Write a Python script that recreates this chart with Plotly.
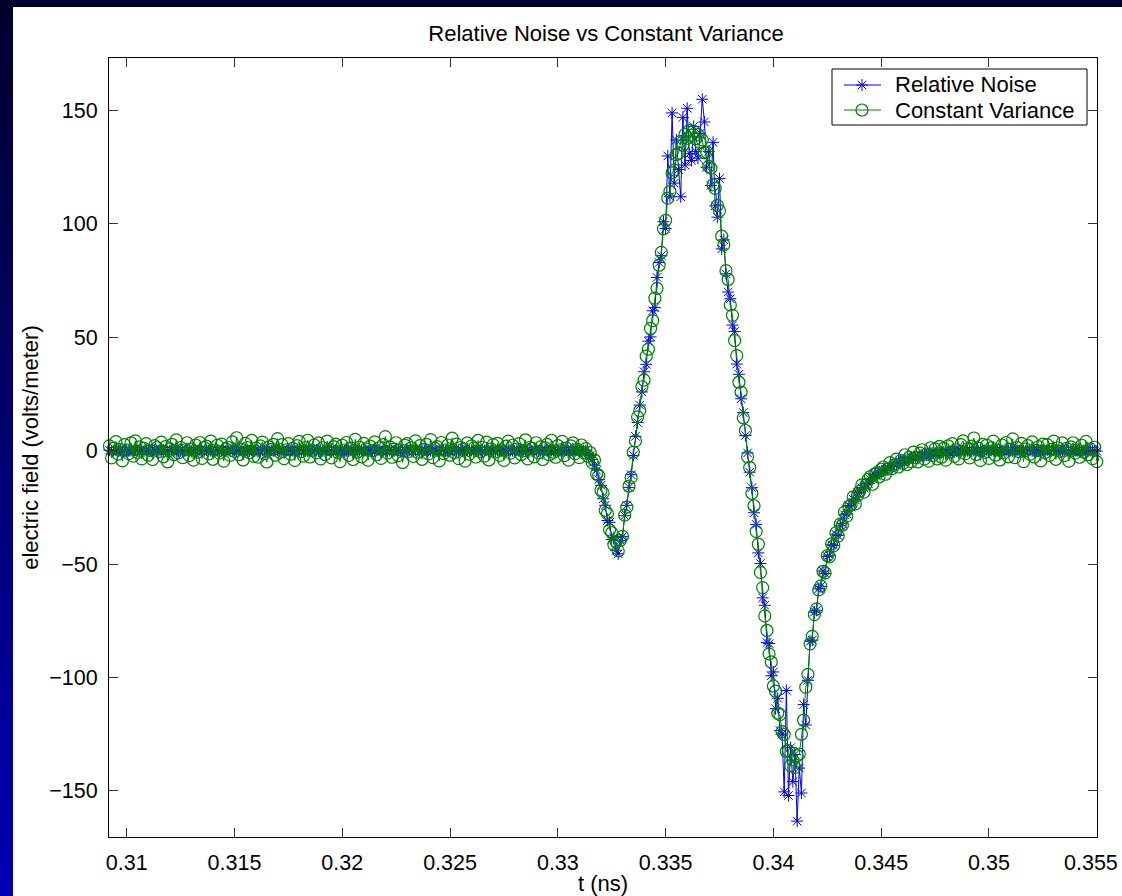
import numpy as np
import plotly.graph_objects as go

# Sampling grid (ns)
T0 = 0.3092
DT = 0.0001

# Constant-variance estimate: flat lead-in, pulse, flat tail
green_lead = [
    2.1, -3.2, 1.1, 4.0, -1.5, 0.6, -4.5, 2.7, 0.3, -1.3, 3.4, -2.4, 4.3, -0.7, 1.7, -3.6, 1.0, 3.1, -2.0, 0.1,
    -3.9, 2.2, 1.3, -0.4, 3.8, -2.7, 1.8, -4.9, 0.8, 2.8, -1.7, 4.8, -1.0, 1.4, -3.1, 0.4, 3.5, -2.2, 0.7, -4.2,
    2.5, -0.6, 3.6, -3.4, 1.3, 2.0, -1.4, 4.2, -3.8, 0.3, 2.4, -1.1, 2.9, -4.6, 0.8, 1.5, -2.1, 3.9, -0.3, 5.7,
    -1.8, 0.7, -4.1, 3.2, 1.4, -0.8, 4.5, -2.5, 1.1, -2.9, 2.1, 3.8, -1.3, -5.0, 1.7, 0.6, 2.8, -2.0, 5.3, -0.7,
    2.7, -3.5, 0.4, 3.1, -1.5, 1.0, -4.3, 2.2, 4.1, -0.4, -2.4, 1.4, 4.6, -2.8, 0.1, 2.5, -1.0, 3.4, -3.6, 1.3,
    -1.7, 4.2, 0.6, -3.2, 1.8, 2.9, -0.8, -4.8, 2.4, 0.3, 3.6, -2.1, 1.1, -3.9, 5.0, -0.6, 1.5, -2.7, 3.2, 0.8,
    -4.2, 2.0, 0.0, 3.9, -1.8, 1.3, -3.4, 2.7, 6.2, -1.1, 1.7, -2.9, 0.7, 3.5, -2.2, 0.4, -5.2, 2.4, 3.1, -0.3,
    1.3, -2.5, 4.3, -0.7, 2.2, -3.8, 0.6, 2.8, -1.4, 4.9, -3.1, 1.0, 1.8, -4.5, 3.6, -1.3, 0.3, 2.5, -2.0, 5.5,
    -0.8, 2.9, -3.5, 1.4, 0.7, -4.6, 3.4, -1.5, 2.1, 1.1, -2.8, 4.5, -0.4, 1.5, -2.4, 3.8, -4.1, 0.8, 2.7, -0.6,
    3.2, -2.1, 0.3, -4.3, 2.0, 4.2, -1.1, 2.4, -3.2, 0.7, 3.1, -1.7, -0.1, 4.8, -3.6, 1.4, 1.0, -2.7, 3.5, -1.0,
    1.7, -3.9, 1.3, 2.8, -1.8, 4.6, -0.7, -2.9, 2.2, 0.4, 4.1, -2.2, 1.1, -4.2, 2.1, 3.4, -1.3, 0.6, -3.1, 2.5,
    -0.8,
]
green_pulse = [
    0.9, -2.4, -0.8, -5.3, -4.1, -10.2, -11.0, -17.5, -18.6, -26.3,
    -27.8, -34.9, -36.2, -41.4, -40.1, -44.2, -39.5, -37.8, -28.4, -24.9,
    -15.6, -11.8, -0.7, 4.3, 14.9, 17.6, 28.2, 31.1, 41.7, 44.8,
    53.9, 57.4, 67.3, 71.6, 81.8, 87.5, 97.9, 101.6, 111.4, 114.3,
    122.5, 123.8, 130.6, 131.2, 136.4, 134.7, 139.5, 137.8, 141.3, 139.2,
    140.9, 137.6, 139.4, 135.9, 137.1, 131.5, 131.8, 125.4, 124.6, 117.3,
    115.7, 108.2, 105.9, 94.6, 90.8, 79.4, 75.5, 64.3, 59.7, 48.6,
    41.9, 30.2, 25.8, 14.5, 8.9, -2.7, -7.4, -18.8, -24.3, -35.6,
    -41.2, -53.7, -60.4, -72.9, -79.3, -89.6, -93.2, -103.8, -106.1, -115.7,
    -116.4, -123.9, -125.2, -132.6, -132.3, -138.9, -136.4, -139.7, -134.5, -133.8,
    -125.1, -118.9, -104.3, -98.7, -85.2, -81.9, -72.3, -69.8, -61.4, -59.6,
    -53.2, -53.9, -46.3, -46.8, -41.1, -41.9, -36.2, -37.7, -32.4, -32.8,
    -27.1, -28.9, -24.6, -23.9, -20.4, -23.5, -19.8, -17.9, -15.1, -18.3,
    -14.9, -12.6, -11.4, -14.8, -10.3, -9.7, -11.6, -8.2, -7.2, -10.4,
    -8.1, -5.3, -7.9, -6.4, -3.7, -7.2, -4.4, -5.6, -1.8, -6.1,
    -2.9, -4.8, -0.6, -3.2, -4.9, -1.1, 0.4, -3.7, -1.5, -4.6,
    1.3, -2.1, 0.8, -3.6, 1.9,
]
green_tail = [
    -2.9, 1.0, -4.2, 2.1, -0.6, 3.1, -2.5, 0.4, -3.6, 2.7, 4.3, -1.3, 0.8, -3.2, 2.0, 5.6, -1.7, 1.1, -4.3, 2.8,
    -0.7, 2.4, -3.4, 1.3, 4.2, -2.0, 0.3, -4.1, 2.5, -1.0, 3.6, -2.7, 0.7, 5.2, -3.1, 1.4, -0.4, 3.2, -4.8, 0.8,
    2.2, -1.5, 3.9, -2.8, 0.1, 1.8, -4.5, 2.9, -0.8, 2.7, -2.1, 0.6, 4.2, -3.8, 1.3, -0.3, 3.4, -2.2, 1.0, -4.6,
    1.7, 3.5, -1.1, 0.4, -2.9, 2.4, -0.6, 4.1, -1.8, 0.8, -3.5, 1.5, -4.8,
]

# Relative-noise estimate: flat lead-in, pulse, flat tail
blue_lead = [
    0.2, -0.1, 0.0, 0.3, -0.2, 0.1, -0.3, 0.0, 0.2, -0.1, 0.1, -0.2, 0.3, 0.0, -0.1, 0.2, -0.3, 0.1, 0.0, -0.2,
    0.1, 0.3, -0.1, 0.0, -0.2, 0.2, 0.1, -0.3, 0.0, 0.1, -0.1, 0.2, -0.2, 0.0, 0.3, -0.1, 0.1, 0.0, -0.3, 0.2,
    -0.1, 0.0, 0.2, -0.2, 0.1, 0.3, -0.1, 0.0, -0.2, 0.1, 0.2, -0.3, 0.0, 0.1, -0.1, 0.3, -0.2, 0.0, 0.2, -0.1,
    0.0, 0.1, -0.3, 0.2, 0.0, -0.1, 0.3, -0.2, 0.1, 0.0, -0.1, 0.2, 0.0, -0.3, 0.1, 0.2, -0.1, 0.0, 0.3, -0.2,
    0.1, -0.2, 0.0, 0.2, -0.1, 0.1, -0.3, 0.0, 0.3, -0.1, 0.0, 0.2, -0.2, 0.1, -0.1, 0.0, 0.3, -0.2, 0.1, 0.0,
    -0.3, 0.2, 0.1, -0.1, 0.0, 0.2, -0.2, 0.1, 0.3, -0.1, 0.0, -0.2, 0.1, 0.2, -0.3, 0.0, 0.1, -0.1, 0.2, 0.0,
    -0.2, 0.3, 0.0, -0.1, 0.1, 0.2, -0.3, 0.0, 0.1, -0.2, 0.2, 0.0, -0.1, 0.3, 0.1, -0.2, 0.0, 0.1, -0.1, 0.2,
    0.0, -0.3, 0.2, 0.1, -0.1, 0.0, 0.3, -0.2, 0.1, 0.0, -0.1, 0.2, -0.2, 0.0, 0.1, 0.3, -0.1, 0.0, -0.3, 0.2,
    0.1, -0.1, 0.0, 0.2, -0.2, 0.3, 0.0, -0.1, 0.1, -0.3, 0.2, 0.0, 0.1, -0.2, 0.0, 0.3, -0.1, 0.1, 0.0, -0.2,
    0.2, 0.0, -0.1, 0.1, -0.3, 0.2, 0.1, 0.0, -0.2, 0.3, -0.1, 0.0, 0.2, -0.2, 0.1, 0.0, -0.1, 0.3, 0.0, -0.2,
    0.1, -0.1, 0.2, 0.0, -0.3, 0.1, 0.0, 0.2, -0.1, 0.1, -0.2, 0.0, 0.3, -0.1, 0.1, 0.0, -0.2, 0.2, 0.0, -0.1,
    0.1,
]
blue_pulse = [
    0.1, -1.1, -2.1, -3.8, -6.4, -8.6, -12.7, -15.3, -21.2, -24.1,
    -30.8, -31.6, -39.2, -38.3, -43.9, -45.5, -39.6, -37.9, -28.7, -24.1,
    -16.2, -10.6, -2.1, 6.3, 12.4, 20.1, 25.9, 34.8, 38.1, 48.3,
    50.2, 61.7, 63.1, 76.4, 83.0, 86.0, 101.0, 98.0, 130.0, 112.0,
    149.0, 118.0, 137.0, 124.0, 112.0, 147.0, 126.0, 151.0, 131.0, 128.0,
    143.0, 132.0, 129.0, 140.0, 155.0, 145.0, 125.0, 132.0, 117.0, 136.0,
    108.0, 103.0, 120.0, 89.0, 93.0, 78.0, 70.0, 67.0, 55.4, 52.6,
    38.2, 33.7, 22.9, 16.8, 6.7, -1.0, -9.5, -16.3, -27.4, -32.5,
    -45.1, -49.8, -64.9, -68.2, -84.7, -85.1, -99.3, -97.6, -113.8, -109.2,
    -123.5, -125.0, -150.5, -105.8, -152.1, -131.0, -146.0, -134.0, -163.4, -140.0,
    -151.0, -112.0, -121.0, -101.3, -84.1, -83.6, -71.2, -70.4, -60.9, -59.8,
    -53.1, -54.2, -46.7, -46.1, -41.5, -41.8, -36.9, -37.4, -33.1, -32.2,
    -28.3, -27.9, -24.2, -24.8, -21.4, -21.7, -18.5, -18.6, -16.4, -16.5,
    -14.6, -14.4, -12.7, -12.3, -10.7, -11.3, -9.8, -9.2, -8.8, -8.2,
    -7.8, -7.1, -6.9, -6.1, -5.9, -5.1, -4.9, -5.0, -4.1, -3.9,
    -4.0, -3.1, -2.9, -3.0, -2.9, -2.1, -2.0, -1.9, -2.0, -1.9,
    -1.1, -1.0, -0.9, -1.0, -0.9, -0.8, -0.7, -0.7, -0.6, -0.5,
    -0.5, -0.4, -0.3, -0.3, -0.2,
]
blue_tail = [
    0.1, -0.2, 0.0, 0.2, -0.1, 0.1, 0.0, -0.2, 0.2, -0.1, 0.0, 0.1, -0.1, 0.2, 0.0, -0.2, 0.1, 0.0, -0.1, 0.2,
    0.0, -0.1, 0.1, -0.2, 0.0, 0.2, -0.1, 0.1, 0.0, -0.2, 0.1, 0.2, -0.1, 0.0, 0.1, -0.2, 0.0, 0.1, -0.1, 0.2,
    -0.1, 0.0, 0.2, -0.2, 0.1, 0.0, -0.1, 0.1, 0.2, -0.1, 0.0, -0.2, 0.1, 0.0, 0.2, -0.1, 0.1, -0.2, 0.0, 0.1,
    0.0, -0.1, -0.2,
]

x_tickvals = [0.31, 0.315, 0.32, 0.325, 0.33, 0.335, 0.34, 0.345, 0.35, 0.355]
x_ticktext = ["0.31", "0.315", "0.32", "0.325", "0.33", "0.335", "0.34", "0.345", "0.35", "0.355"]
y_tickvals = [-150, -100, -50, 0, 50, 100, 150]
y_ticktext = ["\u2212150", "\u2212100", "\u221250", "0", "50", "100", "150"]

series_names = ["Relative Noise", "Constant Variance"]

green = green_lead + green_pulse + green_tail
blue = blue_lead + blue_pulse + blue_tail
t_green = np.round(T0 + DT * np.arange(len(green)), 6)
t_blue = np.round(T0 + DT * np.arange(len(blue)), 6)

W, H = 1122, 896
ML, MR, MT, MB = 109, 25, 58, 59
PW, PH = W - ML - MR, H - MT - MB
FONT = "Liberation Sans, Arial, Helvetica, sans-serif"
TICK_SIZE = 21.5
BLUE, GREEN = "#0000ff", "#008000"
BLUE_MARK = dict(symbol="asterisk-open", size=10, color=BLUE, line=dict(color=BLUE, width=1))
GREEN_MARK = dict(symbol="circle-open", size=12, color=GREEN, line=dict(color=GREEN, width=1.2))


def px_x(p):
    return (p - ML) / PW


def px_y(p):
    return (H - MB - p) / PH


fig = go.Figure()
fig.add_trace(go.Scatter(
    x=t_blue, y=blue, name=series_names[0], mode="lines+markers",
    line=dict(color=BLUE, width=1), marker=BLUE_MARK,
    cliponaxis=False, showlegend=False,
))
fig.add_trace(go.Scatter(
    x=t_green, y=green, name=series_names[1], mode="lines+markers",
    line=dict(color=GREEN, width=1), marker=GREEN_MARK,
    cliponaxis=False, showlegend=False,
))

# Boxed key, drawn on an overlay axis pair spanning the plot area (0..1 both ways)
BOX = (832, 1087, 69, 125)
ROWS = [(85, BLUE, BLUE_MARK), (110, GREEN, GREEN_MARK)]
bx = [px_x(BOX[0]), px_x(BOX[1]), px_x(BOX[1]), px_x(BOX[0]), px_x(BOX[0])]
by = [px_y(BOX[2]), px_y(BOX[2]), px_y(BOX[3]), px_y(BOX[3]), px_y(BOX[2])]
fig.add_trace(go.Scatter(x=bx, y=by, mode="lines", fill="toself", fillcolor="white",
                         line=dict(color="black", width=1), xaxis="x2", yaxis="y2",
                         showlegend=False, hoverinfo="skip"))
annotations = []
for (yp, col, mk), label in zip(ROWS, series_names):
    fig.add_trace(go.Scatter(x=[px_x(844), px_x(881)], y=[px_y(yp), px_y(yp)], mode="lines",
                             line=dict(color=col, width=1), xaxis="x2", yaxis="y2",
                             showlegend=False, hoverinfo="skip"))
    fig.add_trace(go.Scatter(x=[px_x(862)], y=[px_y(yp)], mode="markers", marker=mk,
                             xaxis="x2", yaxis="y2", showlegend=False, hoverinfo="skip"))
    annotations.append(dict(text=label, xref="paper", yref="paper", x=px_x(893), y=px_y(yp),
                            xanchor="left", yanchor="middle", showarrow=False,
                            font=dict(family=FONT, size=22, color="black")))

# The last x label sits at the right edge of the axis; pin its right side inside the page
axis_ticktext = x_ticktext[:-1] + [""]
annotations.append(dict(text=x_ticktext[-1], xref="x", yref="paper", x=x_tickvals[-1],
                        xshift=23, y=px_y(863), xanchor="right", yanchor="middle",
                        showarrow=False,
                        font=dict(family=FONT, size=TICK_SIZE, color="black")))

# Slide-style frame: dark top band and a vertical blue gradient on the left edge
shapes = []
shapes.append(dict(type="rect", xref="paper", yref="paper", layer="below",
                   x0=px_x(0), x1=px_x(W), y0=px_y(0), y1=px_y(7),
                   fillcolor="rgb(0,0,44)", line=dict(width=0)))
n_band = 56
for k in range(n_band):
    y0p = k * H / n_band
    y1p = (k + 1) * H / n_band
    frac = (k + 0.5) / n_band
    b = int(44 + (182 - 44) * frac)
    shapes.append(dict(type="rect", xref="paper", yref="paper", layer="below",
                       x0=px_x(0), x1=px_x(13), y0=px_y(y0p), y1=px_y(y1p + 0.5),
                       fillcolor=f"rgb(0,0,{b})", line=dict(width=0)))

axis_common = dict(
    showline=True, linecolor="black", linewidth=1, mirror="ticks",
    ticks="inside", ticklen=9, tickwidth=1, tickcolor="#333333",
    showgrid=False, zeroline=False, automargin=False,
    tickfont=dict(family=FONT, size=TICK_SIZE, color="black"),
)

fig.update_layout(
    width=W, height=H, autosize=False,
    margin=dict(l=ML, r=MR, t=MT, b=MB, pad=0),
    paper_bgcolor="white", plot_bgcolor="white",
    shapes=shapes, annotations=annotations,
    showlegend=False,
    title=dict(text="Relative Noise vs Constant Variance",
               font=dict(family=FONT, size=22, color="black"),
               x=606 / W, xanchor="center",
               y=1 - 33 / H, yanchor="middle"),
    xaxis=dict(range=[0.30918, 0.35501], tickvals=x_tickvals, ticktext=axis_ticktext,
               ticklabelstandoff=6,
               title=dict(text="t (ns)", font=dict(family=FONT, size=22, color="black"),
                          standoff=2),
               **axis_common),
    yaxis=dict(range=[-170.4, 173.2], tickvals=y_tickvals, ticktext=y_ticktext,
               ticklabelstandoff=6,
               title=dict(text="electric field (volts/meter)",
                          font=dict(family=FONT, size=22, color="black"),
                          standoff=4),
               **axis_common),
    xaxis2=dict(overlaying="x", anchor="y2", range=[0, 1], visible=False, fixedrange=True),
    yaxis2=dict(overlaying="y", anchor="x2", range=[0, 1], visible=False, fixedrange=True),
)

fig.write_html("out.html")
